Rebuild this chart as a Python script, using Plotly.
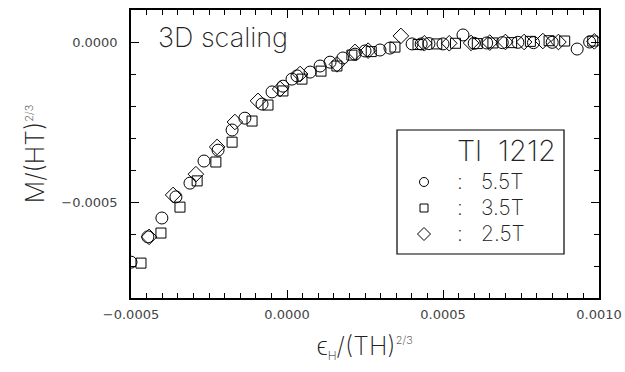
import plotly.graph_objects as go

# ---- data ----
x_55 = [-0.000500, -0.000446, -0.000401, -0.000356, -0.000311, -0.000266, -0.000221,
        -0.000176, -0.000135, -0.000080, -0.000048, -0.000013, 0.000016, 0.000032,
        0.000074, 0.000106, 0.000138, 0.000179, 0.000218, 0.000250, 0.000298, 0.000330,
        0.000401, 0.000430, 0.000455, 0.000500, 0.000564, 0.000600, 0.000640, 0.000690,
        0.000740, 0.000790, 0.000850, 0.000930, 0.000970]
y_55 = [-0.000688, -0.000609, -0.000550, -0.000484, -0.000441, -0.000372, -0.000338,
        -0.000275, -0.000238, -0.000194, -0.000156, -0.000138, -0.000116, -0.000106,
        -0.000094, -0.000075, -0.000063, -0.000050, -0.000038, -0.000028, -0.000025, -0.000019,
        -0.000006, -0.000006, -0.000005, -0.000006, 0.000022, -0.000004, -0.000003, -0.000002,
        -0.000001, -0.000002, -0.000001, -0.000022, 0.000000]

x_35 = [-0.000468, -0.000404, -0.000343, -0.000288, -0.000228, -0.000176, -0.000112,
        -0.000061, -0.000013, 0.000048, 0.000109, 0.000160, 0.000208, 0.000270, 0.000346,
        0.000420, 0.000480, 0.000540, 0.000610, 0.000660, 0.000720, 0.000780, 0.000840,
        0.000890, 0.000980]
y_35 = [-0.000691, -0.000597, -0.000516, -0.000434, -0.000375, -0.000313, -0.000247,
        -0.000197, -0.000153, -0.000116, -0.000091, -0.000075, -0.000041, -0.000030, -0.000016,
        -0.000008, -0.000006, -0.000004, -0.000005, -0.000003, -0.000002, 0.000002, 0.000004,
        0.000003, 0.000003]

x_25 = [-0.000442, -0.000365, -0.000292, -0.000224, -0.000167, -0.000093, -0.000022,
        0.000042, 0.000160, 0.000218, 0.000260, 0.000365, 0.000440, 0.000520, 0.000590,
        0.000650, 0.000700, 0.000760, 0.000820, 0.000870, 0.000985]
y_25 = [-0.000609, -0.000478, -0.000413, -0.000328, -0.000250, -0.000184, -0.000147,
        -0.000100, -0.000070, -0.000031, -0.000027, 0.000019, -0.000004, -0.000004, -0.000003,
        -0.000002, 0.000000, 0.000000, 0.000003, 0.000000, 0.000002]

x_ticks = [-0.0005, 0.0000, 0.0005, 0.0010]
x_tick_text = ["\u22120.0005", "0.0000", "0.0005", "0.0010"]
y_ticks = [-0.0005, 0.0000]
y_tick_text = ["\u22120.0005", "0.0000"]

series = [
    ("5.5T", x_55, y_55, "circle-open", 12),
    ("3.5T", x_35, y_35, "square-open", 10),
    ("2.5T", x_25, y_25, "diamond-open", 12),
]
legend_title = "Tl\u00a0\u00a01212"

TXT = "#222222"
FONT = "Inter"
W_LIGHT = 200

# plot-area pixel frame
L, R, T, B = 131, 599, 10, 298
def px(xp):
    return (xp - L) / (R - L)
def py(yp):
    return 1 - (yp - T) / (B - T)

fig = go.Figure()
for name, xs, ys, sym, sz in series:
    fig.add_trace(go.Scatter(
        x=xs, y=ys, mode="markers", name=name, showlegend=False,
        marker=dict(symbol=sym, size=sz, color="black", line=dict(width=1, color="black")),
    ))

# legend symbols on an invisible overlay axis spanning [0,1]
leg_syms = {"circle-open": 9, "square-open": 8, "diamond-open": 10}
for i, (name, xs, ys, sym, sz) in enumerate(series):
    fig.add_trace(go.Scatter(
        x=[px(424)], y=[py(182 + 26 * i)], xaxis="x2", yaxis="y2", mode="markers",
        showlegend=False, hoverinfo="skip",
        marker=dict(symbol=sym, size=leg_syms[sym], color="black", line=dict(width=1, color="black")),
    ))

axis_common = dict(
    showline=True, linecolor="black", linewidth=1.5, mirror="ticks",
    ticks="inside", tickcolor="black", tickwidth=1, ticklen=8,
    showgrid=False, zeroline=False, automargin=False,
    tickfont=dict(family="DejaVu Sans", size=13, color="#444444"),
)

fig.update_xaxes(
    range=[-0.0005, 0.0010], tickmode="array", tickvals=x_ticks, ticktext=x_tick_text,
    minor=dict(dtick=0.00005, ticks="inside", ticklen=5, tickcolor="black", tickwidth=1, showgrid=False),
    title=dict(text="\u03f5<sub><span style='font-size:12px'>H</span></sub>/(TH)<sup><span style='font-size:11px'>2/3</span></sup>",
               font=dict(family=FONT, size=25, color=TXT, weight=W_LIGHT), standoff=16),
    ticklabelstandoff=4,
    **axis_common,
)
fig.update_yaxes(
    range=[-0.0008, 0.0001], tickmode="array", tickvals=y_ticks, ticktext=y_tick_text,
    minor=dict(dtick=0.0001, ticks="inside", ticklen=5, tickcolor="black", tickwidth=1, showgrid=False),
    title=dict(text="M/(HT)<sup><span style='font-size:11px'>2/3</span></sup>",
               font=dict(family=FONT, size=25, color=TXT, weight=W_LIGHT), standoff=10),
    ticklabelstandoff=9,
    **axis_common,
)

fig.update_layout(
    xaxis2=dict(overlaying="x", range=[0, 1], visible=False, fixedrange=True),
    yaxis2=dict(overlaying="y", range=[0, 1], visible=False, fixedrange=True),
)

# title inside plot
fig.add_annotation(text="3D scaling", xref="paper", yref="paper", x=px(156), y=py(37),
                   xanchor="left", yanchor="middle", showarrow=False,
                   font=dict(family=FONT, size=27, color=TXT, weight=W_LIGHT))

# legend box
fig.add_shape(type="rect", xref="paper", yref="paper",
              x0=px(397), x1=px(564), y0=py(254), y1=py(130),
              line=dict(color="black", width=1.2), fillcolor="white", layer="below")
fig.add_annotation(text=legend_title, xref="paper", yref="paper",
                   x=px(558), y=py(150), xanchor="right", yanchor="middle", showarrow=False,
                   font=dict(family=FONT, size=29, color=TXT, weight=W_LIGHT))
for i, (name, *_rest) in enumerate(series):
    yc = py(181 + 26 * i)
    fig.add_annotation(text=":", xref="paper", yref="paper",
                       x=px(460), y=yc, xanchor="center", yanchor="middle",
                       showarrow=False, font=dict(family=FONT, size=21, color=TXT, weight=W_LIGHT))
    fig.add_annotation(text=name, xref="paper", yref="paper",
                       x=px(479), y=yc, xanchor="left", yanchor="middle",
                       showarrow=False, font=dict(family=FONT, size=21, color=TXT, weight=W_LIGHT))

fig.update_layout(
    width=625, height=372,
    margin=dict(l=L, r=625 - R, t=T, b=372 - B, autoexpand=False),
    paper_bgcolor="white", plot_bgcolor="white",
    showlegend=False,
)

fig.write_html("out.html", config={"displayModeBar": False},
               post_script="document.body.style.margin='0';document.body.style.padding='0';")
